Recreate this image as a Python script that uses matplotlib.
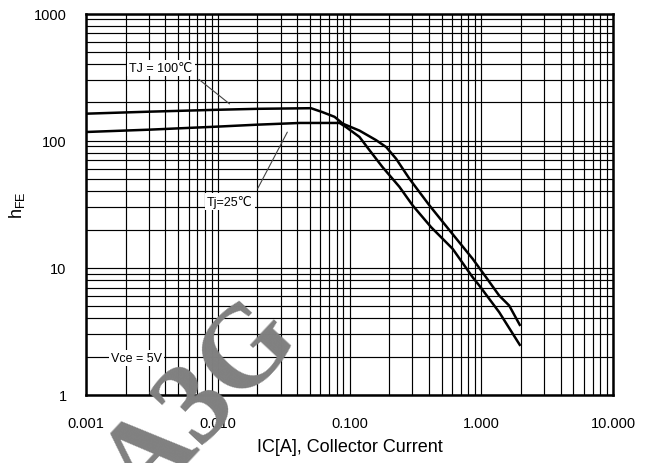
import matplotlib
matplotlib.use("Agg")
import matplotlib.pyplot as plt

plt.rcParams['font.family'] = ['Liberation Sans', 'DejaVu Sans']
plt.rcParams['mathtext.fontset'] = 'custom'
plt.rcParams['mathtext.rm'] = 'Liberation Sans'

# === Data ===
ic_100 = [0.001, 0.003, 0.01, 0.02, 0.051, 0.062, 0.077, 0.089, 0.119, 0.159,
          0.19, 0.226, 0.254, 0.285, 0.404, 0.589, 0.859, 1.086, 1.368, 1.63, 1.96]
hfe_100 = [163, 169, 175, 178, 180, 168, 154, 136, 120, 101,
           89, 72, 60, 50.2, 31, 19.1, 11.8, 8.45, 6.05, 5.05, 3.56]

ic_25 = [0.001, 0.003, 0.01, 0.02, 0.042, 0.084, 0.094, 0.119, 0.142, 0.178,
         0.239, 0.302, 0.416, 0.607, 0.859, 0.966, 1.368, 1.96]
hfe_25 = [117, 122, 129, 133.6, 137.8, 137.8, 128, 107, 84, 62,
          43.4, 30.9, 20.9, 14.1, 8.45, 7.26, 4.48, 2.48]

x_ticks = [0.001, 0.01, 0.1, 1, 10]
x_ticklabels = ["0.001", "0.010", "0.100", "1.000", "10.000"]
y_ticks = [1, 10, 100, 1000]
y_ticklabels = ["1", "10", "100", "1000"]

# === Figure ===
fig = plt.figure(figsize=(6.48, 4.64), dpi=100)
ax = fig.add_axes([86 / 648, 1 - 396 / 464, (613 - 86) / 648, (396 - 14.5) / 464])
ax.set_xscale('log')
ax.set_yscale('log')
ax.set_xlim(0.001, 10)
ax.set_ylim(1, 1000)

ax.grid(True, which='both', color='black', linewidth=0.85)
ax.set_axisbelow(True)
for s in ax.spines.values():
    s.set_linewidth(1.8)

ax.plot(ic_100, hfe_100, color='black', linewidth=1.8, zorder=3)
ax.plot(ic_25, hfe_25, color='black', linewidth=1.8, zorder=3)

ax.set_xticks(x_ticks)
ax.set_xticklabels(x_ticklabels)
ax.set_yticks(y_ticks)
ax.set_yticklabels(y_ticklabels)
ax.minorticks_on()
ax.tick_params(which='both', length=0)
ax.tick_params(axis='x', which='minor', labelbottom=False)
ax.tick_params(axis='y', which='minor', labelleft=False)
ax.tick_params(axis='x', pad=15, labelsize=10.5)
ax.tick_params(axis='y', pad=14, labelsize=10.5)

ax.set_xlabel("IC[A], Collector Current", fontsize=13, labelpad=6)
ax.set_ylabel(r"h$_{\mathregular{FE}}$", fontsize=13)
ax.yaxis.set_label_coords(-59 / 527, 0.5)

box = dict(facecolor='white', edgecolor='none', pad=1.5)
ax.annotate("", xy=(0.01276, 188.7), xytext=(0.00693, 313),
            arrowprops=dict(arrowstyle='-', color='#444444', linewidth=0.8), zorder=4)
ax.text(0.0037, 375, "TJ = 100℃", fontsize=9, ha='center', va='center', bbox=box, zorder=5)

ax.annotate("", xy=(0.0345, 122), xytext=(0.0197, 40.4),
            arrowprops=dict(arrowstyle='-', color='#444444', linewidth=0.8), zorder=4)
ax.text(0.01233, 33.1, "Tj=25℃", fontsize=9, ha='center', va='center', bbox=box, zorder=5)

ax.text(0.00243, 1.96, "Vce = 5V", fontsize=9, ha='center', va='center', bbox=box, zorder=5)

# watermark
fig.text(202 / 648, 1 - 405 / 464, "A3G", fontsize=84, family='Liberation Serif',
         fontweight='bold', color='#808080', rotation=47, ha='center', va='center', zorder=10)

fig.savefig("out.png", dpi=100)
